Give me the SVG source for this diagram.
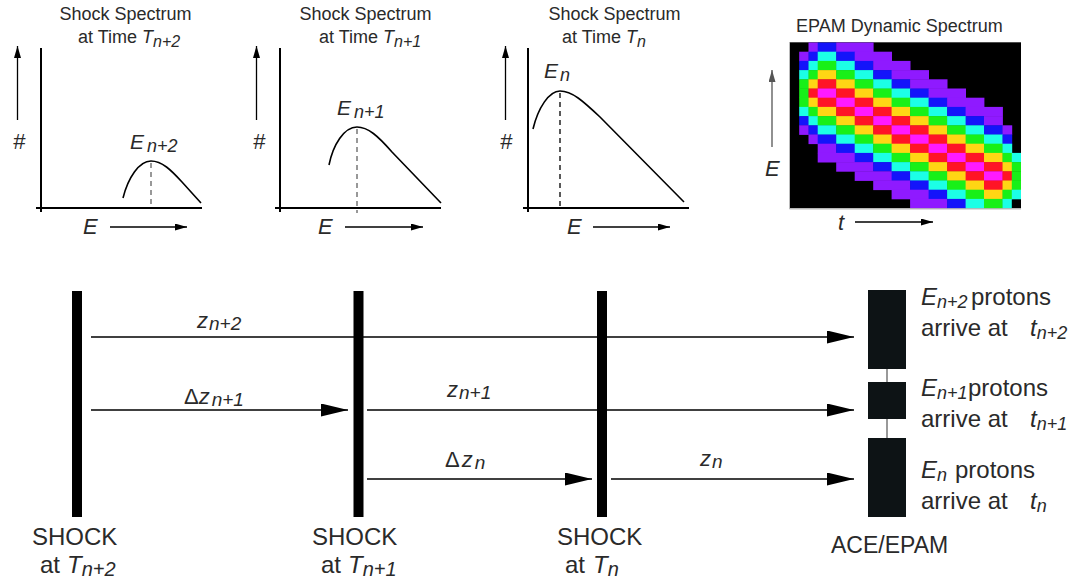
<svg xmlns="http://www.w3.org/2000/svg" width="1070" height="580" viewBox="0 0 1070 580">
<style>
text{font-family:"Liberation Sans",Arial,sans-serif;fill:#2a2a2a}
.it{font-style:italic}
.t18{font-size:18px}
.ax{stroke:#000;stroke-width:2;fill:none}
.cv{stroke:#000;stroke-width:1.6;fill:none}
.ar{stroke:#000;stroke-width:1.3;fill:none}
.arg{stroke:#555;stroke-width:1.3;fill:none}
.dash{stroke:#777;stroke-width:1.5;stroke-dasharray:5 4;fill:none}
.dashk{stroke:#000;stroke-width:1.3;stroke-dasharray:5 4;fill:none}
.conn{stroke:#000;stroke-width:1.5;fill:none}
.bar{fill:#000}
.ace{fill:#0d1315}
.link{stroke:#777;stroke-width:1.5}
.P{fill:#8f1aff}.B{fill:#1414fa}.C{fill:#1cffe6}.G{fill:#18f018}.Y{fill:#ffd614}.R{fill:#ff1426}.M{fill:#ff1aff}
</style>
<defs>
<marker id="sa" markerUnits="userSpaceOnUse" markerWidth="13" markerHeight="8" refX="12" refY="3.5" orient="auto"><path d="M0,0 L12,3.5 L0,7 z" fill="#000"/></marker>
<marker id="sg" markerUnits="userSpaceOnUse" markerWidth="13" markerHeight="8" refX="12" refY="3.5" orient="auto"><path d="M0,0 L12,3.5 L0,7 z" fill="#555"/></marker>
<marker id="la" markerUnits="userSpaceOnUse" markerWidth="28" markerHeight="14" refX="27" refY="6.5" orient="auto"><path d="M0,0 L27,6.5 L0,13 z" fill="#000"/></marker>
</defs>

<g id="plot1">
<text class="t18" x="125.5" y="20" text-anchor="middle">Shock Spectrum</text>
<text class="t18" x="78" y="43">at Time <tspan class="it">T</tspan><tspan class="it" font-size="16" dy="4">n+2</tspan></text>
<path class="ar" d="M17.5,120 V46" marker-end="url(#sa)"/>
<text class="it" font-size="22" x="19" y="149" text-anchor="middle">#</text>
<path class="ax" d="M41,48 V212 M36,208 H202"/>
<path class="dash" d="M151,163 V207"/>
<path class="cv" d="M123,198 C128,178 139,161 151,161 C162,161 171,170 182,182 L201,203"/>
<text class="it" font-size="21" x="130" y="149">E<tspan font-size="18" dx="3" dy="3">n+2</tspan></text>
<text class="it" font-size="22" x="83" y="234">E</text>
<path class="ar" d="M110,227 H187" marker-end="url(#sa)"/>
</g>

<g id="plot2">
<text class="t18" x="365.5" y="20" text-anchor="middle">Shock Spectrum</text>
<text class="t18" x="319" y="43">at Time <tspan class="it">T</tspan><tspan class="it" font-size="16" dy="4">n+1</tspan></text>
<path class="ar" d="M256.5,120 V46" marker-end="url(#sa)"/>
<text class="it" font-size="22" x="259" y="149" text-anchor="middle">#</text>
<path class="ax" d="M280,48 V212 M275,208 H441"/>
<path class="dash" d="M357,129 V213"/>
<path class="cv" d="M329,165 C333,145 344,127 357,127 C368,127 378,136 392,152 L441,203"/>
<text class="it" font-size="21" x="337" y="115">E<tspan font-size="18" dx="3" dy="3">n+1</tspan></text>
<text class="it" font-size="22" x="318" y="234">E</text>
<path class="ar" d="M345,227 H423" marker-end="url(#sa)"/>
</g>

<g id="plot3">
<text class="t18" x="614.5" y="20" text-anchor="middle">Shock Spectrum</text>
<text class="t18" x="562" y="43">at Time <tspan class="it">T</tspan><tspan class="it" font-size="16" dy="4">n</tspan></text>
<path class="ar" d="M505.5,120 V46" marker-end="url(#sa)"/>
<text class="it" font-size="22" x="506" y="149" text-anchor="middle">#</text>
<path class="ax" d="M528,48 V212 M523,208 H689"/>
<path class="dashk" d="M560,93 V208"/>
<path class="cv" d="M533,129 C538,108 549,91 560,91 C572,91 583,101 600,117 L684,202"/>
<text class="it" font-size="21" x="544" y="78">E<tspan font-size="18" dx="2" dy="3">n</tspan></text>
<text class="it" font-size="22" x="567" y="234">E</text>
<path class="ar" d="M593,227 H670" marker-end="url(#sa)"/>
</g>

<g id="epam-spectrum">
<text class="t18" x="796" y="32">EPAM Dynamic Spectrum</text>
<path class="arg" d="M772,147 V70" marker-end="url(#sg)"/>
<text class="it" font-size="22" x="765" y="176">E</text>
<text class="it" font-size="22" x="838" y="230">t</text>
<path class="ar" d="M855,222 H933" marker-end="url(#sa)"/>
<rect x="790" y="42.3" width="231" height="166" fill="#000"/>
<path d="M789.5,42 V209 H1021" stroke="#bbb" stroke-width="1" fill="none"/>
<g>
<rect class="P" x="808.5" y="42.5" width="9.6" height="9.6"/><rect class="B" x="817.7" y="42.5" width="18.9" height="9.6"/><rect class="P" x="836.2" y="42.5" width="37.4" height="9.6"/>
<rect class="P" x="799.2" y="51.7" width="9.7" height="9.6"/><rect class="B" x="808.5" y="51.7" width="9.6" height="9.6"/><rect class="C" x="817.7" y="51.7" width="18.9" height="9.6"/><rect class="B" x="836.2" y="51.7" width="18.9" height="9.6"/><rect class="P" x="854.7" y="51.7" width="37.3" height="9.6"/>
<rect class="B" x="799.2" y="60.9" width="9.7" height="9.6"/><rect class="C" x="808.5" y="60.9" width="9.6" height="9.6"/><rect class="G" x="817.7" y="60.9" width="18.9" height="9.6"/><rect class="C" x="836.2" y="60.9" width="18.9" height="9.6"/><rect class="B" x="854.7" y="60.9" width="18.9" height="9.6"/><rect class="P" x="873.2" y="60.9" width="37.3" height="9.6"/>
<rect class="C" x="799.2" y="70.1" width="9.7" height="9.6"/><rect class="G" x="808.5" y="70.1" width="9.6" height="9.6"/><rect class="Y" x="817.7" y="70.1" width="18.9" height="9.6"/><rect class="G" x="836.2" y="70.1" width="18.9" height="9.6"/><rect class="C" x="854.7" y="70.1" width="18.9" height="9.6"/><rect class="B" x="873.2" y="70.1" width="18.8" height="9.6"/><rect class="P" x="891.6" y="70.1" width="37.4" height="9.6"/>
<rect class="G" x="799.2" y="79.3" width="9.7" height="9.6"/><rect class="Y" x="808.5" y="79.3" width="9.6" height="9.6"/><rect class="R" x="817.7" y="79.3" width="18.9" height="9.6"/><rect class="Y" x="836.2" y="79.3" width="18.9" height="9.6"/><rect class="G" x="854.7" y="79.3" width="18.9" height="9.6"/><rect class="C" x="873.2" y="79.3" width="18.8" height="9.6"/><rect class="B" x="891.6" y="79.3" width="18.9" height="9.6"/><rect class="P" x="910.1" y="79.3" width="37.4" height="9.6"/>
<rect class="G" x="799.2" y="88.5" width="9.7" height="9.6"/><rect class="R" x="808.5" y="88.5" width="9.6" height="9.6"/><rect class="M" x="817.7" y="88.5" width="18.9" height="9.6"/><rect class="R" x="836.2" y="88.5" width="18.9" height="9.6"/><rect class="Y" x="854.7" y="88.5" width="18.9" height="9.6"/><rect class="G" x="873.2" y="88.5" width="18.8" height="9.6"/><rect class="C" x="891.6" y="88.5" width="18.9" height="9.6"/><rect class="B" x="910.1" y="88.5" width="18.9" height="9.6"/><rect class="P" x="928.6" y="88.5" width="37.4" height="9.6"/>
<rect class="G" x="799.2" y="97.7" width="9.7" height="9.6"/><rect class="Y" x="808.5" y="97.7" width="9.6" height="9.6"/><rect class="R" x="817.7" y="97.7" width="18.9" height="9.6"/><rect class="M" x="836.2" y="97.7" width="18.9" height="9.6"/><rect class="R" x="854.7" y="97.7" width="18.9" height="9.6"/><rect class="Y" x="873.2" y="97.7" width="18.8" height="9.6"/><rect class="G" x="891.6" y="97.7" width="18.9" height="9.6"/><rect class="C" x="910.1" y="97.7" width="18.9" height="9.6"/><rect class="B" x="928.6" y="97.7" width="18.9" height="9.6"/><rect class="P" x="947.1" y="97.7" width="37.3" height="9.6"/>
<rect class="C" x="799.2" y="106.9" width="9.7" height="9.6"/><rect class="G" x="808.5" y="106.9" width="9.6" height="9.6"/><rect class="Y" x="817.7" y="106.9" width="18.9" height="9.6"/><rect class="R" x="836.2" y="106.9" width="18.9" height="9.6"/><rect class="M" x="854.7" y="106.9" width="18.9" height="9.6"/><rect class="R" x="873.2" y="106.9" width="18.8" height="9.6"/><rect class="Y" x="891.6" y="106.9" width="18.9" height="9.6"/><rect class="G" x="910.1" y="106.9" width="18.9" height="9.6"/><rect class="C" x="928.6" y="106.9" width="18.9" height="9.6"/><rect class="B" x="947.1" y="106.9" width="18.9" height="9.6"/><rect class="P" x="965.6" y="106.9" width="37.3" height="9.6"/>
<rect class="B" x="799.2" y="116.1" width="9.7" height="9.6"/><rect class="C" x="808.5" y="116.1" width="9.6" height="9.6"/><rect class="G" x="817.7" y="116.1" width="18.9" height="9.6"/><rect class="Y" x="836.2" y="116.1" width="18.9" height="9.6"/><rect class="R" x="854.7" y="116.1" width="18.9" height="9.6"/><rect class="M" x="873.2" y="116.1" width="18.8" height="9.6"/><rect class="R" x="891.6" y="116.1" width="18.9" height="9.6"/><rect class="Y" x="910.1" y="116.1" width="18.9" height="9.6"/><rect class="G" x="928.6" y="116.1" width="18.9" height="9.6"/><rect class="C" x="947.1" y="116.1" width="18.9" height="9.6"/><rect class="B" x="965.6" y="116.1" width="18.8" height="9.6"/><rect class="P" x="984" y="116.1" width="18.9" height="9.6"/>
<rect class="P" x="799.2" y="125.3" width="9.7" height="9.6"/><rect class="B" x="808.5" y="125.3" width="9.6" height="9.6"/><rect class="C" x="817.7" y="125.3" width="18.9" height="9.6"/><rect class="G" x="836.2" y="125.3" width="18.9" height="9.6"/><rect class="Y" x="854.7" y="125.3" width="18.9" height="9.6"/><rect class="R" x="873.2" y="125.3" width="18.8" height="9.6"/><rect class="M" x="891.6" y="125.3" width="18.9" height="9.6"/><rect class="R" x="910.1" y="125.3" width="18.9" height="9.6"/><rect class="Y" x="928.6" y="125.3" width="18.9" height="9.6"/><rect class="G" x="947.1" y="125.3" width="18.9" height="9.6"/><rect class="C" x="965.6" y="125.3" width="18.8" height="9.6"/><rect class="B" x="984" y="125.3" width="18.9" height="9.6"/><rect class="P" x="1002.5" y="125.3" width="9.7" height="9.6"/>
<rect class="P" x="808.5" y="134.5" width="9.6" height="9.6"/><rect class="B" x="817.7" y="134.5" width="18.9" height="9.6"/><rect class="C" x="836.2" y="134.5" width="18.9" height="9.6"/><rect class="G" x="854.7" y="134.5" width="18.9" height="9.6"/><rect class="Y" x="873.2" y="134.5" width="18.8" height="9.6"/><rect class="R" x="891.6" y="134.5" width="18.9" height="9.6"/><rect class="M" x="910.1" y="134.5" width="18.9" height="9.6"/><rect class="R" x="928.6" y="134.5" width="18.9" height="9.6"/><rect class="Y" x="947.1" y="134.5" width="18.9" height="9.6"/><rect class="G" x="965.6" y="134.5" width="18.8" height="9.6"/><rect class="C" x="984" y="134.5" width="18.9" height="9.6"/><rect class="B" x="1002.5" y="134.5" width="9.7" height="9.6"/>
<rect class="P" x="817.7" y="143.7" width="18.9" height="9.6"/><rect class="B" x="836.2" y="143.7" width="18.9" height="9.6"/><rect class="C" x="854.7" y="143.7" width="18.9" height="9.6"/><rect class="G" x="873.2" y="143.7" width="18.8" height="9.6"/><rect class="Y" x="891.6" y="143.7" width="18.9" height="9.6"/><rect class="R" x="910.1" y="143.7" width="18.9" height="9.6"/><rect class="M" x="928.6" y="143.7" width="18.9" height="9.6"/><rect class="R" x="947.1" y="143.7" width="18.9" height="9.6"/><rect class="Y" x="965.6" y="143.7" width="18.8" height="9.6"/><rect class="G" x="984" y="143.7" width="18.9" height="9.6"/><rect class="C" x="1002.5" y="143.7" width="9.7" height="9.6"/>
<rect class="P" x="817.7" y="152.9" width="37.4" height="9.6"/><rect class="B" x="854.7" y="152.9" width="18.9" height="9.6"/><rect class="C" x="873.2" y="152.9" width="18.8" height="9.6"/><rect class="G" x="891.6" y="152.9" width="18.9" height="9.6"/><rect class="Y" x="910.1" y="152.9" width="18.9" height="9.6"/><rect class="R" x="928.6" y="152.9" width="18.9" height="9.6"/><rect class="M" x="947.1" y="152.9" width="18.9" height="9.6"/><rect class="R" x="965.6" y="152.9" width="18.8" height="9.6"/><rect class="Y" x="984" y="152.9" width="18.9" height="9.6"/><rect class="G" x="1002.5" y="152.9" width="9.7" height="9.6"/><rect class="C" x="1011.8" y="152.9" width="9.2" height="9.6"/>
<rect class="P" x="836.2" y="162.1" width="37.4" height="9.6"/><rect class="B" x="873.2" y="162.1" width="18.8" height="9.6"/><rect class="C" x="891.6" y="162.1" width="18.9" height="9.6"/><rect class="G" x="910.1" y="162.1" width="18.9" height="9.6"/><rect class="Y" x="928.6" y="162.1" width="18.9" height="9.6"/><rect class="R" x="947.1" y="162.1" width="18.9" height="9.6"/><rect class="M" x="965.6" y="162.1" width="18.8" height="9.6"/><rect class="R" x="984" y="162.1" width="18.9" height="9.6"/><rect class="Y" x="1002.5" y="162.1" width="9.7" height="9.6"/><rect class="G" x="1011.8" y="162.1" width="9.2" height="9.6"/>
<rect class="P" x="854.7" y="171.3" width="37.3" height="9.6"/><rect class="B" x="891.6" y="171.3" width="18.9" height="9.6"/><rect class="C" x="910.1" y="171.3" width="18.9" height="9.6"/><rect class="G" x="928.6" y="171.3" width="18.9" height="9.6"/><rect class="Y" x="947.1" y="171.3" width="18.9" height="9.6"/><rect class="R" x="965.6" y="171.3" width="18.8" height="9.6"/><rect class="M" x="984" y="171.3" width="18.9" height="9.6"/><rect class="R" x="1002.5" y="171.3" width="9.7" height="9.6"/><rect class="G" x="1011.8" y="171.3" width="9.2" height="9.6"/>
<rect class="P" x="873.2" y="180.5" width="37.3" height="9.6"/><rect class="B" x="910.1" y="180.5" width="18.9" height="9.6"/><rect class="C" x="928.6" y="180.5" width="18.9" height="9.6"/><rect class="G" x="947.1" y="180.5" width="18.9" height="9.6"/><rect class="Y" x="965.6" y="180.5" width="18.8" height="9.6"/><rect class="R" x="984" y="180.5" width="18.9" height="9.6"/><rect class="Y" x="1002.5" y="180.5" width="9.7" height="9.6"/><rect class="G" x="1011.8" y="180.5" width="9.2" height="9.6"/>
<rect class="P" x="891.6" y="189.7" width="37.4" height="9.6"/><rect class="B" x="928.6" y="189.7" width="18.9" height="9.6"/><rect class="C" x="947.1" y="189.7" width="18.9" height="9.6"/><rect class="G" x="965.6" y="189.7" width="18.8" height="9.6"/><rect class="Y" x="984" y="189.7" width="18.9" height="9.6"/><rect class="G" x="1002.5" y="189.7" width="9.7" height="9.6"/><rect class="C" x="1011.8" y="189.7" width="9.2" height="9.6"/>
<rect class="P" x="910.1" y="198.9" width="37.4" height="9.2"/><rect class="B" x="947.1" y="198.9" width="18.9" height="9.2"/><rect class="C" x="965.6" y="198.9" width="18.8" height="9.2"/><rect class="G" x="984" y="198.9" width="18.9" height="9.2"/><rect class="C" x="1002.5" y="198.9" width="9.3" height="9.2"/>
</g>
</g>

<g id="connectors">
<path class="conn" d="M91,337 H854" marker-end="url(#la)"/>
<path class="conn" d="M91,410 H348" marker-end="url(#la)"/>
<path class="conn" d="M367,410 H854" marker-end="url(#la)"/>
<path class="conn" d="M367,479 H592" marker-end="url(#la)"/>
<path class="conn" d="M611,479 H854" marker-end="url(#la)"/>
<text class="it" font-size="22" x="197" y="328">z<tspan font-size="19" dx="1" dy="2">n+2</tspan></text>
<text font-size="22" x="184" y="404">Δ<tspan class="it">z</tspan><tspan class="it" font-size="19" dx="2" dy="2">n+1</tspan></text>
<text class="it" font-size="22" x="447" y="397">z<tspan font-size="19" dx="1" dy="2">n+1</tspan></text>
<text font-size="22" x="445" y="467">Δ<tspan class="it" dx="2">z</tspan><tspan class="it" font-size="19" dx="2" dy="2">n</tspan></text>
<text class="it" font-size="22" x="700" y="466">z<tspan font-size="19" dx="1" dy="2">n</tspan></text>
</g>

<g id="shock-n2">
<rect class="bar" x="72" y="291" width="10" height="226"/>
<text font-size="24" x="32" y="545">SHOCK</text>
<text font-size="24" x="40" y="573">at<tspan class="it" x="67">T</tspan><tspan class="it" font-size="20" dy="3">n+2</tspan></text>
</g>
<g id="shock-n1">
<rect class="bar" x="353.5" y="291" width="10" height="226"/>
<text font-size="24" x="312" y="545">SHOCK</text>
<text font-size="24" x="321" y="573">at<tspan class="it" x="348">T</tspan><tspan class="it" font-size="20" dy="3">n+1</tspan></text>
</g>
<g id="shock-n">
<rect class="bar" x="597" y="291" width="10" height="226"/>
<text font-size="24" x="557" y="545">SHOCK</text>
<text font-size="24" x="565" y="573">at<tspan class="it" x="593">T</tspan><tspan class="it" font-size="20" dy="3">n</tspan></text>
</g>

<g id="ace-epam">
<line class="link" x1="887" y1="369" x2="887" y2="382"/>
<line class="link" x1="887" y1="419" x2="887" y2="438"/>
<rect class="ace" x="868" y="290" width="38" height="79"/>
<rect class="ace" x="868" y="382" width="38" height="37"/>
<rect class="ace" x="868" y="438" width="38" height="79"/>
<text font-size="23" x="831" y="553">ACE/EPAM</text>
<text font-size="24" x="921" y="305"><tspan class="it">E</tspan><tspan class="it" font-size="18" dy="3">n+2</tspan></text>
<text font-size="24" x="971" y="305">protons</text>
<text font-size="24" x="921" y="336">arrive at</text>
<text class="it" font-size="24" x="1030" y="336">t<tspan font-size="18" dy="3">n+2</tspan></text>
<text font-size="24" x="921" y="396"><tspan class="it">E</tspan><tspan class="it" font-size="18" dy="3">n+1</tspan></text>
<text font-size="24" x="968" y="396">protons</text>
<text font-size="24" x="921" y="427">arrive at</text>
<text class="it" font-size="24" x="1030" y="427">t<tspan font-size="18" dy="3">n+1</tspan></text>
<text font-size="24" x="921" y="478"><tspan class="it">E</tspan><tspan class="it" font-size="18" dy="3">n</tspan></text>
<text font-size="24" x="955" y="478">protons</text>
<text font-size="24" x="921" y="509">arrive at</text>
<text class="it" font-size="24" x="1030" y="509">t<tspan font-size="18" dy="3">n</tspan></text>
</g>
</svg>
